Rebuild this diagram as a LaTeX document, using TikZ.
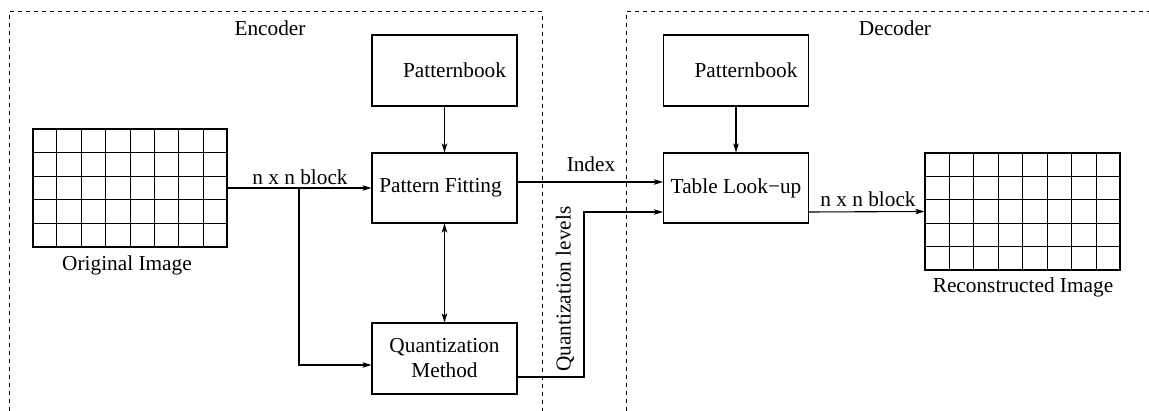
\documentclass[tikz,border=0pt]{standalone}
\usepackage{fontspec}
\setmainfont{Liberation Serif}
\usetikzlibrary{arrows.meta,calc}
\begin{document}
\begin{tikzpicture}[x=1pt,y=-1pt,line width=1.1pt,
  every node/.style={font=\fontsize{21.3}{25}\selectfont},
  blk/.style={draw,rectangle,minimum width=145pt,minimum height=71pt,inner sep=0pt},
  pix/.style={draw,rectangle,inner sep=0pt},
  conn/.style={-{Stealth[length=9pt,width=5.5pt,inset=2pt]}},
  biconn/.style={{Stealth[length=9pt,width=5.5pt,inset=2pt]}-{Stealth[length=9pt,width=5.5pt,inset=2pt]}},
  frame/.style={dash pattern=on 4pt off 4pt,line width=1pt}]
\useasboundingbox (0,0) rectangle (1149,411);

% dashed frames around encoder and decoder
\draw[frame] (9,411) -- (9,12) -- (542,12) -- (542,411);
\draw[frame] (626,411) -- (626,12) -- (1149,12);
\node (enc) at (270,28) {Encoder};
\node (dec) at (895,28) {Decoder};

% encoder blocks
\node[blk] (pb1) at (444.5,70.5) {\hspace*{20pt}Patternbook};
\node[blk,minimum height=70pt] (pf) at (444.5,188) {Pattern Fitting\hspace*{8pt}};
\node[blk,align=center] (qm) at (444.5,358.5) {Quantization\\Method};

% decoder blocks
\node[blk] (pb2) at (736,70.5) {\hspace*{20pt}Patternbook};
\node[blk,minimum height=70pt] (tl) at (736,188) {Table Look−up};

% pixel grids
\node[pix,minimum width=194pt,minimum height=118pt] (orig) at (130,188) {};
\node[pix,minimum width=195pt,minimum height=117pt] (rec) at (1022.5,211.5) {};
\foreach \g in {orig,rec}{
  \foreach \i in {1,...,7}
    \draw[line width=0.9pt] ($(\g.north west)!\i/8!(\g.north east)$) -- ($(\g.south west)!\i/8!(\g.south east)$);
  \foreach \j in {1,...,4}
    \draw[line width=0.9pt] ($(\g.north west)!\j/5!(\g.south west)$) -- ($(\g.north east)!\j/5!(\g.south east)$);
}
\node (origlbl) at (127,265) {Original Image};
\node (reclbl) at (1023,287) {Reconstructed Image};

% connectors
\coordinate (split) at (299,188);
\coordinate (qin) at (299,365);
\coordinate (qout) at (qm.east |- 0,377);
\coordinate (bend1) at (584,377);
\coordinate (bend2) at (584,212);
\coordinate (idxout) at (pf.east |- 0,182);

\draw[conn] (orig.east) -- (pf.west);
\draw[conn] (split) -- (qin) -- (qm.west |- qin);
\draw[biconn] (pf.south) -- (qm.north);
\draw[conn] (pb1.south) -- (pf.north);
\draw[conn] (pb2.south) -- (tl.north);
\draw[conn] (idxout) -- (tl.west |- idxout);
\draw[conn] (qout) -- (bend1) -- (bend2) -- (tl.west |- bend2);
\draw[conn] (tl.east |- bend2) -- (rec.west);

% connector labels
\node (blk1) at (300,177) {n x n block};
\node (blk2) at (868,199) {n x n block};
\node (idx) at (591,164) {Index};
\node[rotate=90] (ql) at (565,289) {Quantization levels};
\end{tikzpicture}
\end{document}
